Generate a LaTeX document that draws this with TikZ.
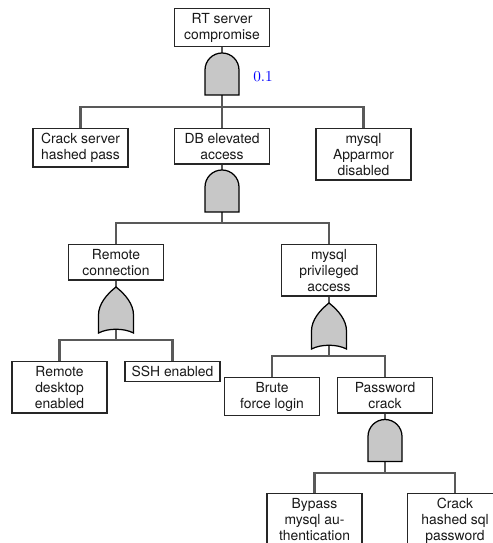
\documentclass[tikz,border=0pt]{standalone}
\usepackage{fontspec}
\setmainfont{TeX Gyre Heros}
\usepackage{tikz}
\usetikzlibrary{calc}

\begin{document}
\begin{tikzpicture}[x=0.72pt, y=0.72pt,
		event/.style={draw=black!85, line width=1pt, fill=white, align=center, anchor=north,
			minimum width=68.4pt, inner xsep=2pt, inner ysep=3.2pt,
			font=\fontsize{10}{11.5}\selectfont, text=black!90},
		andgate/.style={inner sep=0pt, minimum width=24.5pt, minimum height=30.2pt},
		orgate/.style={inner sep=0pt, minimum width=25.2pt, minimum height=33.1pt},
		gateshape/.style={draw=black, line width=0.9pt, fill=black!22},
		wire/.style={draw=black!65, line width=1.5pt},
		prob/.style={text=blue, font=\fontsize{11}{13}\selectfont}]
	\def\W{493};
	\def\H{543};

	\useasboundingbox (0,0) rectangle (\W,\H);

	% events
	\begin{scope}
		\node[event] (rt) at (222,535) {RT server\\compromise};

		\node[event] (crackSrv) at (80.5,415) {Crack server\\hashed pass};
		\node[event] (dbAccess) at (222,415) {DB elevated\\access};
		\node[event] (apparmor) at (363.5,415) {mysql\\Apparmor\\disabled};

		\node[event] (remoteConn) at (116,299) {Remote\\connection};
		\node[event] (mysqlPriv) at (329,299) {mysql\\privileged\\access};

		\node[event] (remoteDesk) at (59.5,182) {Remote\\desktop\\enabled};
		\node[event] (ssh) at (172.5,182) {SSH enabled};

		\node[event] (brute) at (272,166) {Brute\\force login};
		\node[event] (pwdCrack) at (385,166) {Password\\crack};

		\node[event] (bypass) at (314.5,50) {Bypass\\mysql au-\\thentication};
		\node[event] (crackSql) at (455,50) {Crack\\hashed sql\\password};
	\end{scope}

	% gates
	\begin{scope}
		\node[andgate] (gTop) at (222,469) {};
		\node[andgate] (gDB) at (222,352) {};
		\node[orgate] (gRemote) at (116,233) {};
		\node[orgate] (gPriv) at (329,217) {};
		\node[andgate] (gPwd) at (385,102.5) {};

		\node[prob] (pTop) at (263,466) {$0.1$};
	\end{scope}

	\coordinate (bar1) at (222,436);
	\coordinate (bar2) at (222,320);
	\coordinate (bar3) at (116,203);
	\coordinate (bar4) at (329,187);
	\coordinate (bar5) at (385,70);

	% wires
	\begin{scope}[wire]
		\draw (rt.south) -- (gTop.center) -- (bar1);
		\foreach \c in {crackSrv,dbAccess,apparmor}
		{
			\draw (bar1) -| (\c.north);
		}

		\draw (dbAccess.south) -- (gDB.center) -- (bar2);
		\foreach \c in {remoteConn,mysqlPriv}
		{
			\draw (bar2) -| (\c.north);
		}

		\draw (remoteConn.south) -- (gRemote.center) -- (bar3);
		\foreach \c in {remoteDesk,ssh}
		{
			\draw (bar3) -| (\c.north);
		}

		\draw (mysqlPriv.south) -- (gPriv.center) -- (bar4);
		\foreach \c in {brute,pwdCrack}
		{
			\draw (bar4) -| (\c.north);
		}

		\draw (pwdCrack.south) -- (gPwd.center) -- (bar5);
		\foreach \c in {bypass,crackSql}
		{
			\draw (bar5) -| (\c.north);
		}
	\end{scope}

	% gate bodies
	\foreach \g in {gTop,gDB,gPwd}
	{
		\begin{scope}[shift={(\g.center)}]
			\draw[gateshape] (-17,-21) -- (-17,4) arc[start angle=180, end angle=0, radius=17] -- (17,-21) -- cycle;
		\end{scope}
	}

	\foreach \g in {gRemote,gPriv}
	{
		\begin{scope}[shift={(\g.center)}]
			\draw[gateshape] (-17.5,-23) -- (-17.5,-5) .. controls (-17.5,6) and (-9,16) .. (0,23)
				.. controls (9,16) and (17.5,6) .. (17.5,-5) -- (17.5,-23)
				.. controls (8,-18) and (-8,-18) .. (-17.5,-23) -- cycle;
		\end{scope}
	}
\end{tikzpicture}
\end{document}
